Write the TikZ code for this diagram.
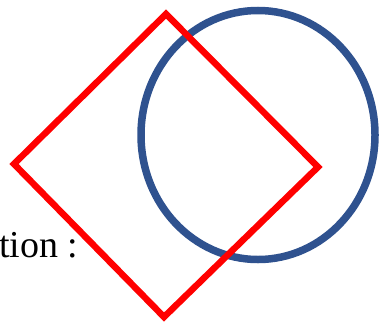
\documentclass[tikz,border=0pt]{standalone}
\usepackage{fontspec}
\setmainfont{Liberation Serif}
\begin{document}
\begin{tikzpicture}[x=1pt,y=-1pt,
  redline/.style={draw={rgb,255:red,255;green,0;blue,0},line width=6.5pt,line join=miter},
  blueline/.style={draw={rgb,255:red,47;green,82;blue,143},line width=7.5pt}]
\useasboundingbox (0,0) rectangle (379,329);
\coordinate (t) at (166,14);
\coordinate (r) at (318,167);
\coordinate (b) at (164,317);
\coordinate (l) at (14,164);
\draw[blueline] (258,135) ellipse [x radius=117, y radius=124.5];
\draw[redline] (t) -- (r) -- (b) -- (l) -- cycle;
\node[anchor=base west,inner sep=0pt,font=\fontsize{38}{42}\selectfont] (txt) at (-1,257) {tion :};
\end{tikzpicture}
\end{document}
